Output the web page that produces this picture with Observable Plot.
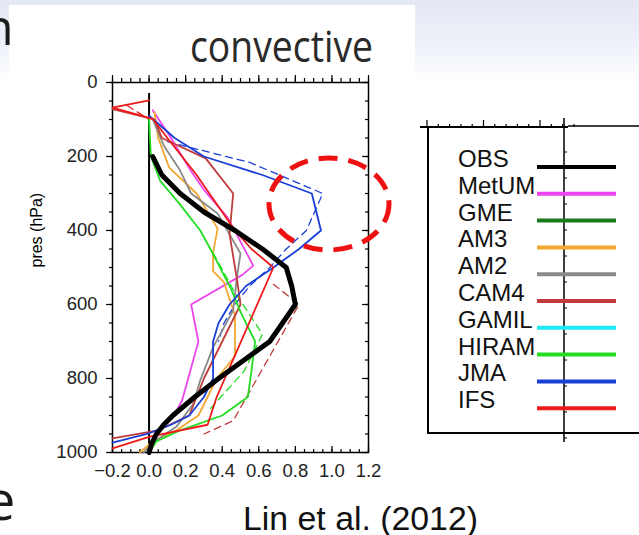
<!DOCTYPE html>
<html><head><meta charset="utf-8">
<script src="https://cdn.jsdelivr.net/npm/d3@7"></script>
<script src="https://cdn.jsdelivr.net/npm/@observablehq/plot@0.6"></script>
<style>
html,body{margin:0;padding:0;}
body{width:639px;height:535px;position:relative;overflow:hidden;background:#fff;font-family:"Liberation Sans",Arial,sans-serif;}
#bg{position:absolute;left:0;top:0;width:639px;height:110px;background:linear-gradient(to bottom,#e3e8f4 0%,#edf1f9 40%,#ffffff 75%);}
#paper{position:absolute;left:9px;top:5px;width:406px;height:530px;background:#fff;}
#chart{position:absolute;left:0;top:0;}
#over{position:absolute;left:0;top:0;}
</style></head><body>
<div id="bg"></div><div id="paper"></div>
<div id="chart"></div>
<svg id="over" width="639" height="535"></svg>
<script>
// ---- categories ----
const models = ["OBS","MetUM","GME","AM3","AM2","CAM4","GAMIL","HIRAM","JMA","IFS"];
const colors = ["#000000","#ee44ee","#1a7a1a","#f2a830","#8a8a8a","#c03c3c","#22e8f5","#22dd22","#1a3fd6","#ee1a1a"];

// ---- tick labels ----
const xTicks = [-0.2, 0.0, 0.2, 0.4, 0.6, 0.8, 1.0, 1.2];
const yTicks = [0, 200, 400, 600, 800, 1000];
const xMinor = d3.range(-0.2, 1.2001, 0.05);
const yMinor = d3.range(0, 1001, 50);

// ---- series values (pressure hPa, normalized profile) ----
const obsP = [200,250,300,350,400,450,500,550,600,650,700,750,800,850,900,925,950,975,1000];
const obsX = [0.02,0.07,0.17,0.30,0.47,0.62,0.75,0.78,0.80,0.73,0.66,0.52,0.38,0.25,0.13,0.08,0.04,0.015,0.0];

const metumP = [75,150,240,290,365,430,495,520,600,700,860,905,950,1000];
const metumX = [0.02,0.12,0.23,0.30,0.43,0.50,0.57,0.51,0.23,0.27,0.18,0.13,0.03,0.0];

const am3P = [80,150,230,300,395,460,510,540,630,740,800,900,940,970,1000];
const am3X = [0.03,0.05,0.11,0.26,0.375,0.35,0.35,0.41,0.47,0.47,0.37,0.27,0.15,0.02,-0.05];

const am2P = [100,170,238,300,354,462,527,616,716,805,870,930,970,1000];
const am2X = [0.02,0.08,0.17,0.23,0.375,0.50,0.48,0.46,0.35,0.28,0.24,0.15,0.03,-0.03];

const cam4P = [72,100,150,205,300,410,530,600,700,800,900,940,962];
const cam4X = [-0.2,0.03,0.07,0.31,0.46,0.44,0.48,0.50,0.40,0.30,0.22,0.05,-0.2];

const hiramP = [100,200,265,330,400,454,560,620,700,780,850,900,940,970,1000];
const hiramX = [0.0,0.01,0.06,0.17,0.28,0.34,0.45,0.50,0.58,0.56,0.54,0.40,0.17,0.04,0.0];

const jmaP = [90,150,200,250,300,400,450,500,550,600,650,700,800,850,900,925,948,973];
const jmaX = [0.0,0.14,0.30,0.62,0.89,0.94,0.82,0.68,0.53,0.44,0.38,0.35,0.35,0.30,0.22,0.12,0.0,-0.2];

const ifsP = [48,68,98,150,200,250,300,350,400,450,500,850,925,958,989];
const ifsX = [0.0,-0.2,0.02,0.10,0.18,0.26,0.33,0.40,0.47,0.56,0.68,0.37,0.32,0.0,-0.2];

// dashed companion profiles
const jmaDashP = [160,216,300,400,450,500,550,600,650,700];
const jmaDashX = [0.10,0.55,0.95,0.86,0.75,0.66,0.55,0.47,0.41,0.38];
const cam4DashP = [545,600,914,950];
const cam4DashX = [0.68,0.82,0.46,0.30];
const hiramDashP = [460,560,680,780,890];
const hiramDashX = [0.35,0.46,0.62,0.52,0.32];
const ifsDashP = [62,100];
const ifsDashX = [-0.12,0.0];

const zeroTop = 30;

function rows(model, P, X) { return P.map((p, i) => ({model, p, x: X[i]})); }

const solidRows = [
  ...rows("MetUM", metumP, metumX),
  ...rows("AM3", am3P, am3X),
  ...rows("AM2", am2P, am2X),
  ...rows("CAM4", cam4P, cam4X),
  ...rows("HIRAM", hiramP, hiramX),
  ...rows("JMA", jmaP, jmaX),
  ...rows("IFS", ifsP, ifsX)
];
const dashRows = [
  ...rows("JMA", jmaDashP, jmaDashX),
  ...rows("CAM4", cam4DashP, cam4DashX),
  ...rows("HIRAM", hiramDashP, hiramDashX),
  ...rows("IFS", ifsDashP, ifsDashX)
];
const obsRows = rows("OBS", obsP, obsX);

// tick lengths in data units (frame: 256 px wide for 1.4, 370 px tall for 1000 hPa)
const kx = 1.4 / 256, ky = 1000 / 370;
const tk = {stroke: "#000", strokeWidth: 1.2};

const chart = Plot.plot({
  width: 639, height: 535,
  marginLeft: 112, marginRight: 271, marginTop: 82, marginBottom: 83,
  style: {background: "transparent", fontFamily: "Liberation Sans, Arial, sans-serif", color: "#000"},
  x: {domain: [-0.2, 1.2]},
  y: {domain: [0, 1000], reverse: true},
  color: {domain: models, range: colors},
  marks: [
    Plot.axisX({anchor: "bottom", ticks: xTicks, tickSize: 0, tickPadding: 11, fontSize: 18.5, fill: "#222", tickFormat: d3.format(".1f"), label: null}),
    Plot.axisY({anchor: "left", ticks: yTicks, tickSize: 0, tickPadding: 15, fontSize: 18.5, fill: "#222", tickFormat: d => String(d), label: null}),
    // bottom ticks (inward)
    Plot.ruleX(xTicks, {y1: 1000, y2: 1000 - 6 * ky, ...tk}),
    Plot.ruleX(xMinor, {y1: 1000, y2: 1000 - 3 * ky, ...tk}),
    // top ticks (outward)
    Plot.ruleX(xTicks, {y1: 0, y2: -7 * ky, ...tk}),
    Plot.ruleX(xMinor, {y1: 0, y2: -4 * ky, ...tk}),
    // left ticks (outward)
    Plot.ruleY(yTicks, {x1: -0.2, x2: -0.2 - 6 * kx, ...tk}),
    Plot.ruleY(yMinor, {x1: -0.2, x2: -0.2 - 3 * kx, ...tk}),
    // right ticks (inward)
    Plot.ruleY(yTicks, {x1: 1.2, x2: 1.2 - 6 * kx, ...tk}),
    Plot.ruleY(yMinor, {x1: 1.2, x2: 1.2 - 3 * kx, ...tk}),
    Plot.text(["pres (hPa)"], {frameAnchor: "left", rotate: -90, dx: -76, fontSize: 16}),
    Plot.frame({stroke: "#000", strokeWidth: 1.5}),
    Plot.ruleX([0], {y1: zeroTop, y2: 1000, stroke: "#000", strokeWidth: 2}),
    Plot.line(dashRows, {x: "x", y: "p", z: "model", stroke: "model", strokeWidth: 1.3, strokeDasharray: "7,5"}),
    Plot.line(solidRows, {x: "x", y: "p", z: "model", stroke: "model", strokeWidth: 1.8}),
    Plot.line(obsRows, {x: "x", y: "p", stroke: "model", strokeWidth: 5, strokeLinejoin: "round"})
  ]
});
document.getElementById("chart").appendChild(chart);

// ---- overlay: slide text, annotation, legend panel ----
const svg = d3.select("#over");
svg.append("text").attr("x", -17).attr("y", 45).attr("font-family", "Open Sans, sans-serif")
  .attr("font-size", 50).attr("fill", "#1a1a1a").text("n");
svg.append("text").attr("x", -15).attr("y", 520).attr("font-family", "Open Sans, sans-serif")
  .attr("font-size", 54).attr("fill", "#1a1a1a").text("e");
svg.append("text").attr("x", 190).attr("y", 62).attr("font-family", "Open Sans, sans-serif")
  .attr("font-size", 44).attr("fill", "#2a2a2a").attr("textLength", 183).attr("lengthAdjust", "spacingAndGlyphs").text("convective");
svg.append("text").attr("x", 243).attr("y", 530).attr("font-family", "Liberation Sans Narrow, Liberation Sans, sans-serif")
  .attr("font-size", 33).attr("fill", "#111").attr("textLength", 235).attr("lengthAdjust", "spacingAndGlyphs").text("Lin et al. (2012)");

// red dashed ellipse annotation
svg.append("ellipse").attr("cx", 329).attr("cy", 204).attr("rx", 60).attr("ry", 46)
  .attr("fill", "none").attr("stroke", "#ee1111").attr("stroke-width", 5).attr("stroke-dasharray", "19 11");

// legend panel frame
const g = svg.append("g").attr("stroke", "#000").attr("fill", "none");
g.append("path").attr("d", "M420,127H568").attr("stroke-width", 2);
g.append("path").attr("d", "M568,126H639").attr("stroke-width", 1.3);
g.append("path").attr("d", "M428,127V433H639").attr("stroke-width", 2);
g.append("path").attr("d", "M564,118V442").attr("stroke-width", 1.5);
for (let i = 0; i <= 13; i++) {
  const x = 427 + i * 11.3;
  g.append("path").attr("d", `M${x},127v${i % 5 === 0 ? -7 : -3}`).attr("stroke-width", 1.2);
}
for (let i = 0; i < 12; i++) {
  g.append("path").attr("d", `M564,${152 + i * 26}h3`).attr("stroke-width", 1);
}
const leg = svg.append("g");
models.forEach((m, i) => {
  const y = 167 + i * 26.8;
  leg.append("line").attr("x1", 537).attr("x2", 616).attr("y1", y).attr("y2", y)
    .attr("stroke", colors[i]).attr("stroke-width", 4);
  leg.append("text").attr("x", 458).attr("y", y).attr("font-family", "Liberation Sans, Arial, sans-serif")
    .attr("font-size", 24).attr("fill", "#111").text(m);
});
</script>
</body></html>
